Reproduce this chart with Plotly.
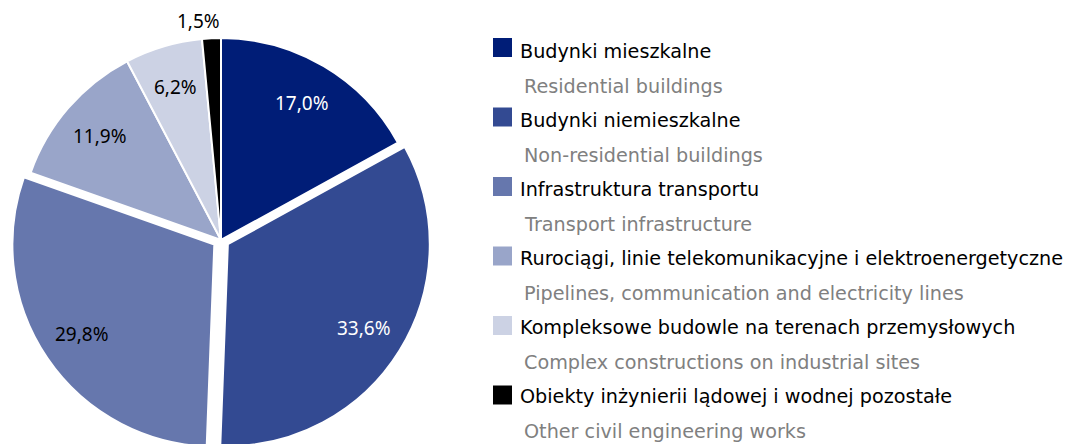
import numpy as np
import plotly.graph_objects as go

labels_pl = [
    "Budynki mieszkalne",
    "Budynki niemieszkalne",
    "Infrastruktura transportu",
    "Rurociągi, linie telekomunikacyjne i elektroenergetyczne",
    "Kompleksowe budowle na terenach przemysłowych",
    "Obiekty inżynierii lądowej i wodnej pozostałe",
]
labels_en = [
    "Residential buildings",
    "Non-residential buildings",
    "Transport infrastructure",
    "Pipelines, communication and electricity lines",
    "Complex constructions on industrial sites",
    "Other civil engineering works",
]
values = [17.0, 33.6, 29.8, 11.9, 6.2, 1.5]

colors = ["#001D77", "#334A92", "#6677AD", "#99A5C9", "#CCD2E4", "#000000"]
text_colors = ["white", "white", "black", "black", "black", "black"]
label_inside = [True, True, True, True, True, False]
pulls = [0, 0.04, 0.04, 0, 0, 0]

LEG_FONT = "DejaVu Sans"
LBL_FONT = "Noto Sans"
W, H = 1076, 444
MT, MB = 22, 2
PW, PH = W, H - MT - MB
PIE_W = 426

def xp(fx):
    return fx / PW

def yp(fy):
    return (H - MB - fy) / PH

fig = go.Figure()
fig.add_trace(go.Pie(
    labels=labels_pl,
    values=values,
    sort=False,
    direction="clockwise",
    rotation=0,
    pull=pulls,
    marker=dict(colors=colors, line=dict(color="white", width=2)),
    textinfo="none",
    hoverinfo="skip",
    showlegend=False,
    domain=dict(x=[0, PIE_W / W], y=[0, 1]),
))

# pie geometry as plotly computes it
r = min(PIE_W, PH) / (2 + 2 * max(pulls))
cx = PIE_W / 2
cy = MT + PH / 2

vals = np.array(values)
mid = (np.cumsum(vals) - vals / 2) / vals.sum() * 2 * np.pi

annotations = []
for i, v in enumerate(values):
    th = mid[i]
    txt = f"{v:.1f}".replace(".", ",") + "%"
    if label_inside[i]:
        rr = pulls[i] * r + 0.79 * r
        xshift = 0
    else:
        rr = r + 17
        xshift = -12
    annotations.append(dict(
        text=txt, xref="paper", yref="paper",
        x=xp(cx + rr * np.sin(th)), y=yp(cy - rr * np.cos(th)),
        xanchor="center", yanchor="middle", showarrow=False, xshift=xshift,
        font=dict(family=LBL_FONT, size=19, color=text_colors[i]),
    ))

shapes = []
for i, (pl, en) in enumerate(zip(labels_pl, labels_en)):
    sc = 39.5 + i * 69.5          # legend square centre
    base = 50.3 + i * 69.0        # Polish text baseline
    shapes.append(dict(
        type="rect", xref="paper", yref="paper",
        x0=xp(485), x1=xp(504),
        y0=yp(sc + 9.5), y1=yp(sc - 9.5),
        fillcolor=colors[i], line=dict(width=0),
    ))
    annotations.append(dict(
        text=pl, xref="paper", yref="paper", x=xp(509.5), y=yp(base - 6.6),
        xanchor="left", yanchor="middle", showarrow=False,
        font=dict(family=LEG_FONT, size=19.2, color="#000000"),
    ))
    annotations.append(dict(
        text=en, xref="paper", yref="paper", x=xp(513.5), y=yp(base + 35 - 6.6),
        xanchor="left", yanchor="middle", showarrow=False,
        font=dict(family=LEG_FONT, size=19.2, color="#808080"),
    ))

fig.update_layout(
    width=W, height=H,
    margin=dict(l=0, r=0, t=MT, b=MB, autoexpand=False),
    paper_bgcolor="white", plot_bgcolor="white",
    separators=", ",
    shapes=shapes,
    annotations=annotations,
    font=dict(family=LEG_FONT),
)

fig.write_html("out.html")
